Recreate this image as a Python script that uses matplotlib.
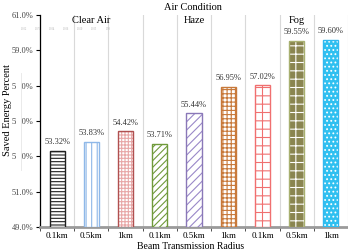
import matplotlib.pyplot as plt
import numpy as np
from matplotlib.patches import Rectangle

plt.rcParams['font.family'] = ['Liberation Serif', 'DejaVu Serif']
plt.rcParams['hatch.linewidth'] = 0.8

radius = ["0.1km", "0.5km", "1km", "0.1km", "0.5km", "1km", "0.1km", "0.5km", "1km"]
saved = [53.32, 53.83, 54.42, 53.71, 55.44, 56.95, 57.02, 59.55, 59.60]
groups = ["Clear Air", "Haze", "Fog"]
tiny = ["0.002", "0.071", "0.004", "0.006", "0.050", "0.003", "0.99"]

faces = ["white", "white", "white", "white", "white", "white", "white", "#8a8550", "#2fc0f0"]
hatch_cols = ["#202020", "#8fb8e8", "#e8a8a8", "#6f9a3a", "#9a88c8", "#c8793a", "#f07070", "white", "white"]
edges = ["#202020", "#8fb8e8", "#b05050", "#6f9a3a", "#8a78b8", "#c8793a", "#f07070", "#a8b070", "#30b8f0"]
hatches = ["-----", "|||", "+++++", "/////", "////", "++++", "++", "++", "...."]

fig = plt.figure(figsize=(3.48, 2.5), dpi=100)
ax = fig.add_axes([0.115, 0.092, 0.885, 0.848])

x = np.arange(len(saved))
for i in range(len(saved)):
    ax.bar(x[i], saved[i] - 49, bottom=49, width=0.44, color=faces[i],
           edgecolor=hatch_cols[i], hatch=hatches[i], linewidth=0, zorder=3)
    ax.bar(x[i], saved[i] - 49, bottom=49, width=0.44, fill=False,
           edgecolor=edges[i], linewidth=1.0, zorder=4)
    ax.text(x[i], saved[i] + 0.25, f"{saved[i]:.2f}%", ha='center', va='bottom',
            fontsize=6, color='#333333', zorder=5)

ax.set_xlim(-0.5, len(saved) - 0.5)
ax.set_ylim(49, 61)
ax.set_yticks(np.arange(49, 61.1, 2))
ax.set_yticklabels([f"{v:.1f}%" for v in np.arange(49, 61.1, 2)], fontsize=6, color='#444444')
ax.set_xticks(x)
ax.set_xticklabels(radius, fontsize=6.5)
ax.tick_params(axis='x', length=0, pad=3.5)
ax.tick_params(axis='y', length=3, direction='out', pad=2)

ax.set_xticks(np.arange(-0.5, len(saved)), minor=True)
ax.tick_params(axis='x', which='minor', length=3, color='#333333')
ax.grid(axis='x', which='minor', color='#d9d9d9', linewidth=0.8, zorder=0)

for s in ['top', 'right']:
    ax.spines[s].set_visible(False)
ax.spines['left'].set_color('black')
ax.spines['left'].set_linewidth(0.9)
ax.spines['bottom'].set_color('#9a9a9a')
ax.spines['bottom'].set_linewidth(2)

ax.set_xlabel("Beam Transmission Radius", fontsize=7)
ax.xaxis.set_label_coords(0.49, -0.069)
ax.set_ylabel("Saved Energy Percent", fontsize=7.5)
ax.yaxis.set_label_coords(-0.092, 0.55)

fig.text(0.555, 0.972, "Air Condition", ha='center', va='center', fontsize=7.5)
for g, xi in zip(groups, [1, 4, 7]):
    ax.text(xi, 60.7, g, ha='center', va='center', fontsize=7.5)

for k, t in enumerate(tiny):
    fig.text(0.07 + k * 0.04, 0.884, t, ha='center', va='center', fontsize=2, color='#b0b0b0')

# white box hiding part of the middle tick labels
fig.patches.append(Rectangle((0.047, 0.32), 0.013, 0.39, transform=fig.transFigure,
                             facecolor='white', edgecolor='none', zorder=10))
fig.add_artist(plt.Line2D([0.06, 0.06], [0.32, 0.71], transform=fig.transFigure,
                          color='#e6e6e6', linewidth=0.6))

fig.savefig("out.png", dpi=100)
